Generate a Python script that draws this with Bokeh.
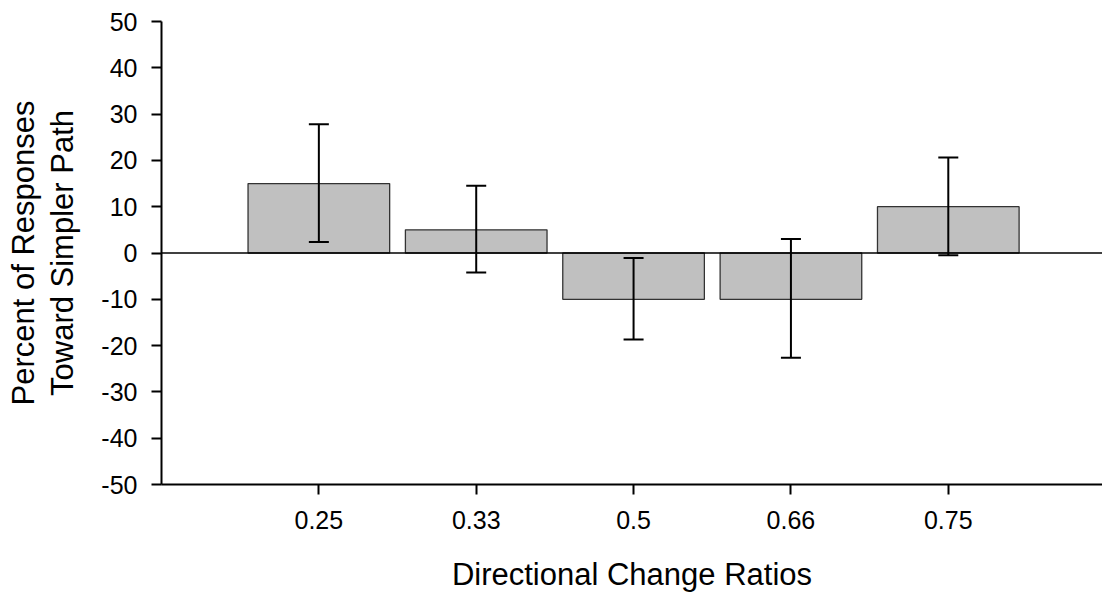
from bokeh.plotting import figure
from bokeh.models import (ColumnDataSource, Range1d, FixedTicker, Whisker, TeeHead, Span)
from bokeh.embed import file_html
from bokeh.resources import INLINE

ratios = ["0.25", "0.33", "0.5", "0.66", "0.75"]
percent = [15, 5, -10, -10, 10]
err_upper = [27.8, 14.5, -1.1, 3.0, 20.6]
err_lower = [2.4, -4.2, -18.7, -22.6, -0.5]
y_ticks = [-50, -40, -30, -20, -10, 0, 10, 20, 30, 40, 50]
y_tick_labels = ["-50", "-40", "-30", "-20", "-10", "0", "10", "20", "30", "40", "50"]

xs = list(range(1, len(ratios) + 1))
src = ColumnDataSource(dict(x=xs, top=percent, upper=err_upper, lower=err_lower))

FONT = "Liberation Sans"

p = figure(width=1102, height=599, x_range=Range1d(0, 5.98), y_range=Range1d(-50, 50),
           output_backend="svg", toolbar_location=None,
           min_border_left=161, min_border_right=0, min_border_top=21, min_border_bottom=115)
p.outline_line_color = None
p.xgrid.visible = False
p.ygrid.visible = False
p.background_fill_color = "white"
p.border_fill_color = "white"

p.vbar(x="x", top="top", bottom=0, width=0.9, source=src,
       fill_color="#c0c0c0", line_color="#333333", line_width=1.3)

p.add_layout(Span(location=0, dimension="width", line_color="black", line_width=1.5))

wh = Whisker(source=src, base="x", upper="upper", lower="lower",
             line_color="black", line_width=2, level="overlay",
             upper_head=TeeHead(size=20, line_width=2, line_color="black"),
             lower_head=TeeHead(size=20, line_width=2, line_color="black"))
p.add_layout(wh)

for ax in (p.xaxis, p.yaxis):
    ax.axis_line_width = 2
    ax.axis_line_color = "black"
    ax.major_tick_line_width = 2
    ax.major_tick_line_color = "black"
    ax.major_tick_out = 10
    ax.major_tick_in = 0
    ax.minor_tick_line_color = None
    ax.major_label_text_font = FONT
    ax.major_label_text_font_size = "25px"
    ax.major_label_text_color = "black"
    ax.axis_label_text_font = FONT
    ax.axis_label_text_font_size = "31px"
    ax.axis_label_text_font_style = "normal"
    ax.axis_label_text_color = "black"

p.xaxis.ticker = FixedTicker(ticks=xs)
p.xaxis.major_label_overrides = {x: r for x, r in zip(xs, ratios)}
p.xaxis.major_label_standoff = 16
p.xaxis.axis_label = "Directional Change Ratios"
p.xaxis.axis_label_standoff = 25

p.yaxis.ticker = FixedTicker(ticks=y_ticks)
p.yaxis.major_label_overrides = {t: s for t, s in zip(y_ticks, y_tick_labels)}
p.yaxis.major_label_standoff = 14
p.yaxis.axis_label = "Percent of Responses\nToward Simpler Path"
p.yaxis.axis_label_standoff = 18
p.yaxis.axis_label_text_line_height = 1.13

open("out.html", "w").write(file_html(p, INLINE))
